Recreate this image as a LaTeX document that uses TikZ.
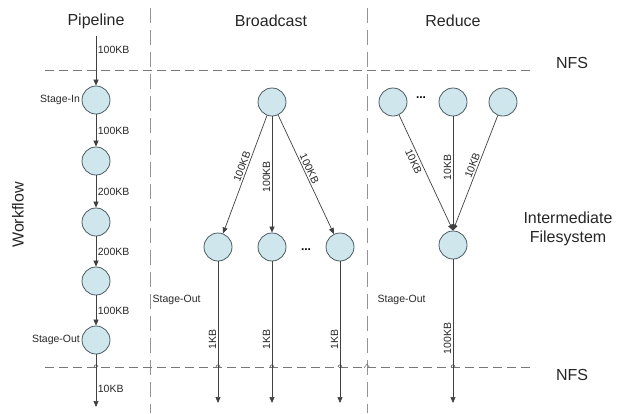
\documentclass[tikz,border=0pt]{standalone}
\usepackage{fontspec}
\setmainfont{Liberation Sans}
\usetikzlibrary{arrows.meta}
\definecolor{cfill}{RGB}{206,230,236}
\definecolor{cdraw}{RGB}{75,92,98}
\definecolor{dgrey}{RGB}{120,120,120}
\definecolor{ltext}{RGB}{40,40,40}
\tikzset{
  proc/.style={circle,draw=cdraw,fill=cfill,line width=0.8pt,minimum size=28pt,inner sep=0pt},
  flow/.style={draw=black!75,line width=0.7pt,-{Triangle[length=6pt,width=5pt]}},
  lbl/.style={font=\fontsize{10.5}{12}\selectfont,text=ltext,inner sep=1.5pt},
  dots/.style={font=\fontsize{12}{12}\selectfont\bfseries,inner sep=0pt},
  title/.style={font=\fontsize{16}{19}\selectfont,text=black!85},
  hsep/.style={draw=dgrey,line width=0.9pt,dash pattern=on 9pt off 5pt},
  vsep/.style={draw=dgrey!80,line width=0.9pt,dash pattern=on 15pt off 7pt},
  hop/.style={draw=black!70,line width=0.6pt}
}
\begin{document}
\begin{tikzpicture}[x=1pt,y=-1pt]
\useasboundingbox (0,0) rectangle (624,413);
% separators
\draw[vsep] (150,8) -- (150,413);
\draw[vsep] (367,8) -- (367,413);
\draw[hsep] (45,70) -- (535,70);
\draw[hsep] (45,367) -- (535,367);
% line hops on bottom NFS line
\foreach \x in {96,218,272,340,453}{\draw[hop] (\x-2,367) .. controls (\x-1,364) and (\x+1,364) .. (\x+2,367);}
\draw[hop,draw=dgrey] (364,368) -- (367,364) -- (370,368);
% titles
\node[title] (tp) at (96,21) {Pipeline};
\node[title] (tb) at (271,21) {Broadcast};
\node[title] (tr) at (453,21) {Reduce};
\node[title] (nfs1) at (572,63) {NFS};
\node[title] (nfs2) at (572,375) {NFS};
\node[title,align=center] (ifs) at (568,229) {Intermediate\\Filesystem};
\node[title,rotate=90] (wf) at (18,215) {Workflow};
% pipeline
\coordinate (pin) at (96,36);
\coordinate (pout) at (96,407);
\node[proc] (p1) at (96,100) {};
\node[proc] (p2) at (96,161) {};
\node[proc] (p3) at (96,222) {};
\node[proc] (p4) at (96,281) {};
\node[proc] (p5) at (96,340) {};
\draw[flow] (pin) -- (p1) node[lbl,pos=0.28,anchor=west] {100KB};
\draw[flow] (p1) -- (p2) node[lbl,midway,anchor=west] {100KB};
\draw[flow] (p2) -- (p3) node[lbl,midway,anchor=west] {200KB};
\draw[flow] (p3) -- (p4) node[lbl,midway,anchor=west] {200KB};
\draw[flow] (p4) -- (p5) node[lbl,midway,anchor=west] {100KB};
\draw[flow] (p5) -- (pout) node[lbl,pos=0.66,anchor=west] {10KB};
\node[lbl,anchor=east] (sin) at (p1.west) {Stage-In};
\node[lbl,anchor=east] (sout1) at (p5.west) {Stage-Out};
% broadcast
\node[proc] (b0) at (272,102) {};
\node[proc] (b1) at (218,247) {};
\node[proc] (b2) at (272,247) {};
\node[proc] (b3) at (340,247) {};
\node[dots] (bd) at (306,250) {...};
\draw[flow] (b0) -- (b1) node[lbl,pos=0.45,sloped,above] {100KB};
\draw[flow] (b0) -- (b2) node[lbl,pos=0.52,rotate=90,anchor=south] {100KB};
\draw[flow] (b0) -- (b3) node[lbl,pos=0.47,sloped,above] {100KB};
\coordinate (bo1) at (218,403);
\coordinate (bo2) at (272,403);
\coordinate (bo3) at (340,403);
\draw[flow] (b1) -- (bo1) node[lbl,pos=0.55,rotate=90,anchor=south] {1KB};
\draw[flow] (b2) -- (bo2) node[lbl,pos=0.55,rotate=90,anchor=south] {1KB};
\draw[flow] (b3) -- (bo3) node[lbl,pos=0.55,rotate=90,anchor=south] {1KB};
\node[lbl,anchor=west] (sout2) at (151,300) {Stage-Out};
% reduce
\node[proc] (r1) at (393,102) {};
\node[proc] (r2) at (453,102) {};
\node[proc] (r3) at (503,102) {};
\node[dots] (rd) at (421,98) {...};
\node[proc] (r0) at (453,245) {};
\draw[flow] (r1) -- (r0.north) node[lbl,pos=0.38,sloped,below=1pt] {10KB};
\draw[flow] (r2) -- (r0.north) node[lbl,pos=0.45,rotate=90,anchor=south] {10KB};
\draw[flow] (r3) -- (r0.north) node[lbl,pos=0.45,sloped,above] {10KB};
\coordinate (ro) at (453,403);
\draw[flow] (r0) -- (ro) node[lbl,pos=0.55,rotate=90,anchor=south] {100KB};
\node[lbl,anchor=west] (sout3) at (376,300) {Stage-Out};
\end{tikzpicture}
\end{document}
